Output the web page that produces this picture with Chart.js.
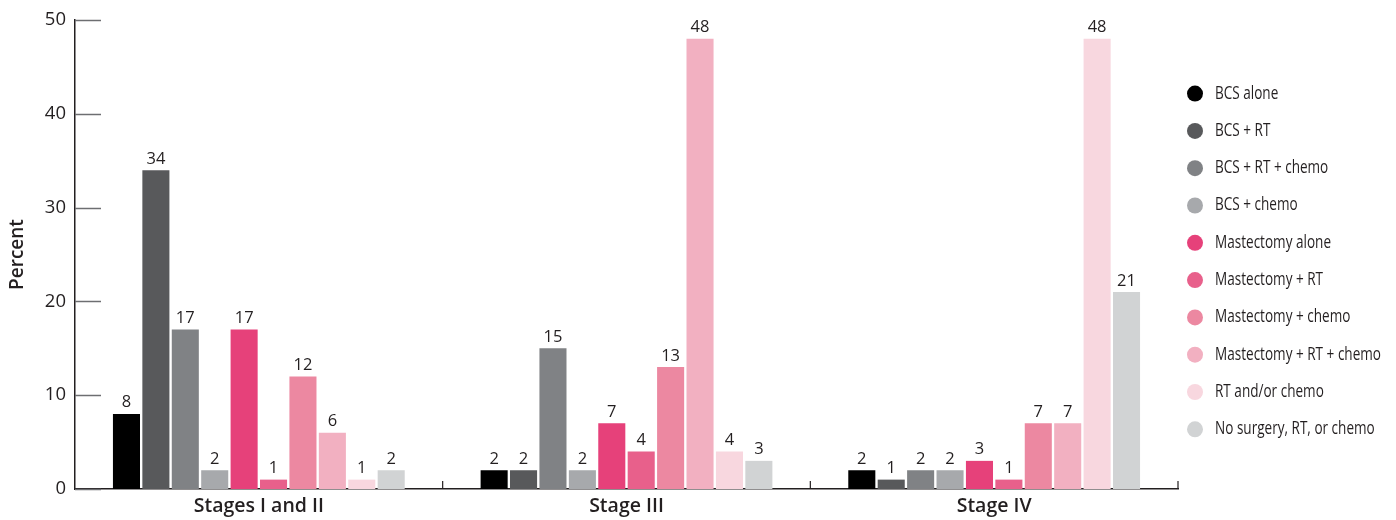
<!DOCTYPE html>
<html>
<head>
<meta charset="utf-8">
<script src="https://cdn.jsdelivr.net/npm/chart.js@4.4.1/dist/chart.umd.min.js"></script>
<style>
  html, body { margin: 0; padding: 0; background: #fff; }
  #wrap { width: 1396px; height: 520px; }
</style>
</head>
<body>
<div id="wrap"><canvas id="chart" width="1396" height="520"></canvas></div>
<script>
// categories and tick labels
const stages = ['Stages I and II', 'Stage III', 'Stage IV'];
const yTicks = [0, 10, 20, 30, 40, 50];

// one series per treatment, values per stage (percent)
const bcsAlone        = [8, 2, 2];
const bcsRt           = [34, 2, 1];
const bcsRtChemo      = [17, 15, 2];
const bcsChemo        = [2, 2, 2];
const mastAlone       = [17, 7, 3];
const mastRt          = [1, 4, 1];
const mastChemo       = [12, 13, 7];
const mastRtChemo     = [6, 48, 7];
const rtOrChemo       = [1, 4, 48];
const noTreatment     = [2, 3, 21];

const seriesLabels = [
  'BCS alone', 'BCS + RT', 'BCS + RT + chemo', 'BCS + chemo',
  'Mastectomy alone', 'Mastectomy + RT', 'Mastectomy + chemo',
  'Mastectomy + RT + chemo', 'RT and/or chemo', 'No surgery, RT, or chemo'
];
const seriesData = [
  bcsAlone, bcsRt, bcsRtChemo, bcsChemo,
  mastAlone, mastRt, mastChemo, mastRtChemo, rtOrChemo, noTreatment
];
const seriesColors = [
  '#000000', '#58595b', '#808285', '#a7a9ac',
  '#e6417a', '#e8608b', '#ec88a1', '#f2b0c1', '#f8d7df', '#d1d3d4'
];

const BASE_FONT = '"Open Sans", "DejaVu Sans", sans-serif';
const INK = '#231f20';

// value labels, inward tick marks and the legend
const extras = {
  id: 'extras',
  afterDatasetsDraw(chart) {
    const { ctx, chartArea, scales: { x, y } } = chart;
    ctx.save();

    // value labels above bars
    ctx.font = '16.5px ' + BASE_FONT;
    ctx.fillStyle = INK;
    ctx.textAlign = 'center';
    ctx.textBaseline = 'bottom';
    chart.data.datasets.forEach((ds, i) => {
      const meta = chart.getDatasetMeta(i);
      meta.data.forEach((bar, j) => {
        ctx.fillText(String(ds.data[j]), bar.x, bar.y - 3);
      });
    });

    // short y ticks pointing into the plot
    ctx.strokeStyle = '#6d6e71';
    ctx.lineWidth = 1.5;
    yTicks.forEach(v => {
      const py = Math.round(y.getPixelForValue(v)) + 0.5;
      ctx.beginPath();
      ctx.moveTo(chartArea.left, py);
      ctx.lineTo(chartArea.left + 26, py);
      ctx.stroke();
    });

    // x ticks at category boundaries, pointing up
    ctx.strokeStyle = INK;
    ctx.lineWidth = 1.2;
    for (let i = 1; i <= stages.length; i++) {
      const px = i < stages.length
        ? (x.getPixelForValue(i - 1) + x.getPixelForValue(i)) / 2
        : chartArea.right;
      ctx.beginPath();
      ctx.moveTo(px, chartArea.bottom);
      ctx.lineTo(px, chartArea.bottom - 8);
      ctx.stroke();
    }

    // legend (condensed look: squeeze the text horizontally)
    ctx.font = '17.5px ' + BASE_FONT;
    ctx.textAlign = 'left';
    ctx.textBaseline = 'middle';
    const widest = Math.max(...seriesLabels.map(l => ctx.measureText(l).width));
    const squeeze = 166 / widest;
    seriesLabels.forEach((lab, i) => {
      const cy = chartArea.top + 73.5 + i * 37.3;
      ctx.fillStyle = seriesColors[i];
      ctx.beginPath();
      ctx.arc(chartArea.right + 17, cy, 8, 0, Math.PI * 2);
      ctx.fill();
      ctx.save();
      ctx.translate(chartArea.right + 37, cy);
      ctx.scale(squeeze, 1);
      ctx.fillStyle = INK;
      ctx.fillText(lab, 0, 0);
      ctx.restore();
    });

    ctx.restore();
  }
};

new Chart(document.getElementById('chart'), {
  type: 'bar',
  data: {
    labels: stages,
    datasets: seriesLabels.map((label, i) => ({
      label,
      data: seriesData[i],
      backgroundColor: seriesColors[i],
      borderWidth: 0,
      categoryPercentage: 0.8,
      barPercentage: 0.92
    }))
  },
  options: {
    responsive: false,
    animation: false,
    devicePixelRatio: 1,
    layout: { padding: { top: 20, right: 218, left: 0, bottom: 0 } },
    plugins: {
      legend: { display: false },
      tooltip: { enabled: false }
    },
    scales: {
      x: {
        grid: { display: false, drawTicks: false },
        border: { display: true, color: INK, width: 1.5 },
        ticks: {
          color: INK,
          padding: 6,
          font: { family: BASE_FONT, size: 19.5, weight: '600' }
        },
        afterFit: (s) => { s.height = 31; }
      },
      y: {
        min: 0,
        max: 50,
        grid: { display: false, drawTicks: false },
        border: { display: true, color: INK, width: 1.5 },
        ticks: {
          stepSize: 10,
          color: INK,
          padding: 9,
          font: { family: BASE_FONT, size: 18.5 }
        },
        title: {
          display: true,
          text: 'Percent',
          color: INK,
          padding: { top: 6, bottom: 0 },
          font: { family: BASE_FONT, size: 19, weight: '600' }
        },
        afterFit: (s) => { s.width = 75; }
      }
    }
  },
  plugins: [extras]
});
</script>
</body>
</html>
